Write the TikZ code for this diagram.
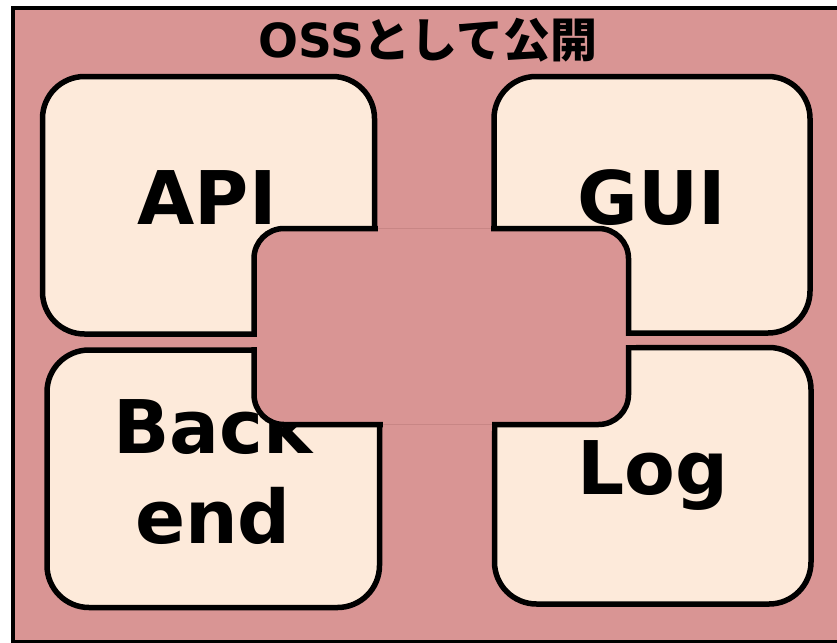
\documentclass[tikz,border=0pt]{standalone}
\usepackage{fontspec}
\newfontfamily\labfont{DejaVu Sans}
\newfontfamily\cjkfont{Noto Sans CJK JP}
\definecolor{panelpink}{HTML}{D99594}
\definecolor{boxpeach}{HTML}{FDEADA}
\definecolor{seampink}{HTML}{C88685}
\tikzset{
  panel/.style={draw=black, line width=4pt, fill=panelpink},
  partbox/.style={draw=black, line width=5.5pt, fill=boxpeach, rounded corners=42pt},
  corebox/.style={draw=black, line width=5.5pt, fill=panelpink, rounded corners=30pt},
  gapfill/.style={fill=panelpink, draw=none},
  seam/.style={draw=seampink, line width=0.8pt},
  partlabel/.style={font=\labfont\bfseries\fontsize{74}{90}\selectfont, anchor=base, inner sep=0pt, align=center},
  titlelabel/.style={font=\bfseries\fontsize{47}{50}\selectfont, anchor=base, inner sep=0pt}
}
\begin{document}
\begin{tikzpicture}[x=1pt, y=-1pt]
  \useasboundingbox (0,0) rectangle (837,642);
  % outer panel, running off the right edge
  \draw[panel] (13,8) rectangle (860,642);
  \node[titlelabel] (title) at (428,58) {{\labfont OSS}{\cjkfont として公開}};

  % the four component boxes
  \draw[partbox] (42.5,76.5) rectangle (374.5,334) node[pos=0.5] (api) {};
  \draw[partbox] (494,76.5) rectangle (810,333) node[pos=0.5] (gui) {};
  \draw[partbox] (47,350) rectangle (379.5,607.5) node[pos=0.5] (backend) {};
  \draw[partbox] (494.5,347.5) rectangle (811,604) node[pos=0.5] (logbox) {};

  \node[partlabel] (apilabel) at (207,224) {API};
  \node[partlabel] (guilabel) at (652,224) {GUI};
  \node[partlabel] (loglabel) at (652.5,494) {Log};
  % baseline of the last line
  \node[partlabel] (backlabel) at (213,543) {Back\\end};

  % central block overlapping the four boxes
  \draw[corebox] (254,228.5) rectangle (628.5,424.5) node[pos=0.5] (core) {};

  % the core's outline disappears in the gaps between the boxes
  \fill[gapfill] (377.5,222) rectangle (491,235);
  \fill[gapfill] (382.5,418) rectangle (491.5,431);
  \fill[gapfill] (247,337) rectangle (261,347);
  \fill[gapfill] (622,336) rectangle (636,344.5);
  \draw[seam] (377.5,228.5) -- (491,228.5);
  \draw[seam] (382.5,424.5) -- (491.5,424.5);
\end{tikzpicture}
\end{document}
